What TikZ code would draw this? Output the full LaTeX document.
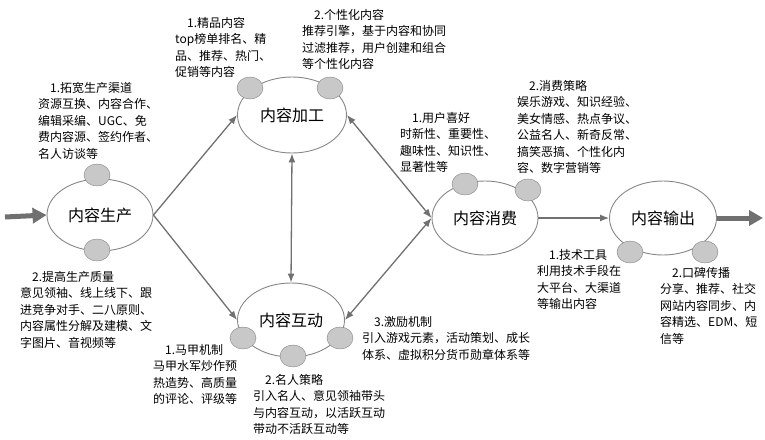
\documentclass[tikz,border=0pt]{standalone}
\usepackage{fontspec}
\setmainfont{Noto Sans CJK SC}
\usepackage{tikz}
\usetikzlibrary{shapes.geometric, arrows.meta}
\definecolor{linegray}{RGB}{112,112,112}
\definecolor{rimgray}{RGB}{135,135,135}
\definecolor{knobgray}{RGB}{200,200,200}
\tikzstyle{stage} = [
	ellipse,
	draw=rimgray,
	line width=0.9pt,
	fill=white,
	inner sep=0pt,
	font=\fontsize{16}{18}\selectfont
]
\tikzstyle{knob} = [
	ellipse,
	draw=knobgray!65!black,
	fill=knobgray,
	minimum width=26pt,
	minimum height=22pt,
	inner sep=0pt
]
\tikzstyle{note} = [anchor=north west, align=left, inner sep=0pt, font=\fontsize{12}{16.5}\selectfont]
\tikzstyle{arrow} = [draw=linegray, line width=1.3pt, >={Latex[length=9pt,width=7pt]}]
\tikzstyle{pipe} = [draw=linegray, line width=5pt, -{Triangle[length=14pt,width=15pt]}]

\begin{document}
\begin{tikzpicture}[x=1pt, y=-1pt]
    \useasboundingbox (0, 0) rectangle (765, 439);
    \node [stage, minimum width=106pt, minimum height=72pt] at (100, 215) (prod) {内容生产};
    \node [stage, minimum width=109pt, minimum height=76pt] at (292, 115) (proc) {内容加工};
    \node [stage, minimum width=107pt, minimum height=74pt] at (291, 320) (inter) {内容互动};
    \node [stage, minimum width=106pt, minimum height=74pt] at (485, 218) (cons) {内容消费};
    \node [stage, minimum width=107pt, minimum height=74pt] at (663, 218) (out) {内容输出};
    \node [knob] at (97, 175) (prod knob A) {};
    \node [knob] at (97, 250) (prod knob B) {};
    \node [knob] at (250, 88) (proc knob A) {};
    \node [knob] at (330, 88) (proc knob B) {};
    \node [knob] at (243, 338) (inter knob A) {};
    \node [knob] at (293, 356) (inter knob B) {};
    \node [knob] at (340, 338) (inter knob C) {};
    \node [knob] at (465, 184) (cons knob A) {};
    \node [knob] at (528, 190) (cons knob B) {};
    \node [knob] at (630, 252) (out knob A) {};
    \node [knob] at (705, 252) (out knob B) {};
    \node [note] at (38, 82) (widen) {\hspace*{1em}1.拓宽生产渠道\\资源互换、内容合作、\\编辑采编、UGC、免\\费内容源、签约作者、\\名人访谈等};
    \node [note] at (175, 17) (quality) {\hspace*{1em}1.精品内容\\top榜单排名、精\\品、推荐、热门、\\促销等内容};
    \node [note] at (302, 9) (personal) {\hspace*{1em}2.个性化内容\\推荐引擎，基于内容和协同\\过滤推荐，用户创建和组合\\等个性化内容};
    \node [note] at (400, 112) (taste) {\hspace*{1em}1.用户喜好\\时新性、重要性、\\趣味性、知识性、\\显著性等};
    \node [note] at (517, 80) (strategy) {\hspace*{1em}2.消费策略\\娱乐游戏、知识经验、\\美女情感、热点争议、\\公益名人、新奇反常、\\搞笑恶搞、个性化内\\容、数字营销等};
    \node [note] at (20, 271) (improve) {\hspace*{1em}2.提高生产质量\\意见领袖、线上线下、跟\\进竞争对手、二八原则、\\内容属性分解及建模、文\\字图片、音视频等};
    \node [note] at (153, 344) (vest) {\hspace*{1em}1.马甲机制\\马甲水军炒作预\\热造势、高质量\\的评论、评级等};
    \node [note] at (253, 374) (celeb) {\hspace*{1em}2.名人策略\\引入名人、意见领袖带头\\与内容互动，以活跃互动\\带动不活跃互动等};
    \node [note] at (362, 316) (reward) {\hspace*{1em}3.激励机制\\引入游戏元素，活动策划、成长\\体系、虚拟积分货币勋章体系等};
    \node [note] at (537, 249) (tools) {\hspace*{1em}1.技术工具\\利用技术手段在\\大平台、大渠道\\等输出内容};
    \node [note] at (660, 267) (mouth) {\hspace*{1em}2.口碑传播\\分享、推荐、社交\\网站内容同步、内\\容精选、EDM、短\\信等};
    \coordinate (in) at (5, 217);
    \coordinate (exit) at (763, 218);
    \draw [pipe] (in) to (prod.west);
    \draw [pipe] (out.east) to (exit);
    \draw [arrow, ->] (prod.east) to (proc.west);
    \draw [arrow, ->] (prod.east) to (inter.west);
    \draw [arrow, <->] (proc.south) to (inter.north);
    \draw [arrow, <->] (proc.east) to (cons.west);
    \draw [arrow, <->] (inter.east) to (cons.west);
    \draw [arrow, ->] (cons.east) to (out.west);
  \end{tikzpicture}
\end{document}
